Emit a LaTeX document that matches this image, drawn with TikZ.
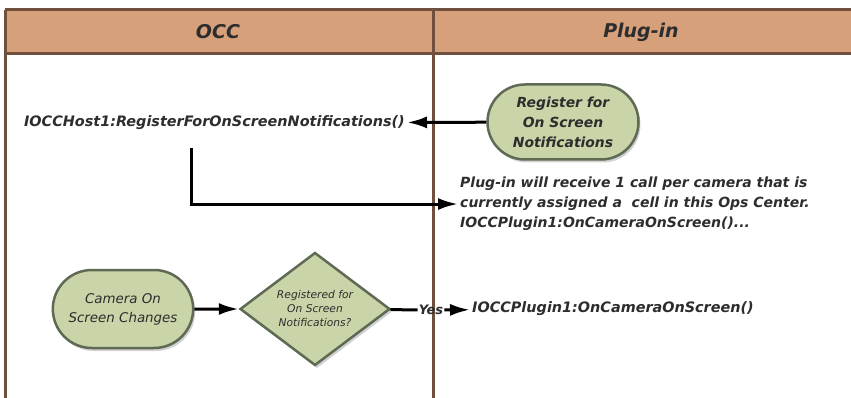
\documentclass[tikz,border=0pt]{standalone}
\usepackage{fontspec}
\setmainfont{DejaVu Sans}
\usepackage{tikz}
\usetikzlibrary{shapes.geometric}
\usetikzlibrary{shapes.misc}
\usetikzlibrary{arrows.meta}
\usetikzlibrary{shadows}
\usetikzlibrary{positioning}
\definecolor{laneline}{RGB}{112,80,60}
\definecolor{lanehead}{RGB}{214,160,122}
\definecolor{stepfill}{RGB}{201,213,168}
\definecolor{stepline}{RGB}{95,106,85}
\definecolor{inkgray}{RGB}{45,45,45}

\begin{document}
\begin{tikzpicture}[x=1pt,y=-1pt,>={Latex[length=20pt,width=12pt]},
    lane/.style={draw=laneline,line width=3pt},
    head text/.style={font=\fontsize{19}{22}\selectfont\bfseries\itshape,text=inkgray},
    call text/.style={font=\fontsize{14.4}{17}\selectfont\bfseries\itshape,text=inkgray,inner sep=2pt},
    term node/.style={rounded rectangle,draw=stepline,fill=stepfill,line width=2.5pt,align=center,
        text=inkgray,drop shadow={opacity=0.35,shadow xshift=2pt,shadow yshift=-3pt}},
    dec node/.style={diamond,draw=stepline,fill=stepfill,line width=2.5pt,align=center,inner sep=0pt,
        text=inkgray,minimum width=150pt,minimum height=113pt,
        drop shadow={opacity=0.35,shadow xshift=2pt,shadow yshift=-3pt}},
    flow/.style={->,line width=3pt,black}]
   \useasboundingbox (0,0) rectangle (851,398);
   \clip (0,0) rectangle (851,398);
   % swim lanes
   \fill[white] (0,0) rectangle (851,398);
   \fill[lanehead] (5,10) rectangle (860,54);
   \draw[lane] (5,10) -- (860,10);
   \draw[lane] (5,54) -- (860,54);
   \draw[lane] (5,10) -- (5,405);
   \draw[lane] (433,10) -- (433,405);
   \node[head text] (occ) at (218,32) {OCC};
   \node[head text] (plugin) at (641,32) {Plug-in};

   % register step
   \node[term node,minimum width=153pt,minimum height=75pt,inner sep=1pt,
     font=\fontsize{13.9}{20}\selectfont\bfseries\itshape] (reg) at (563,122)
     {Register for\\On Screen\\Notifications};
   \node[call text,anchor=east] (host) at (407,123) {IOCCHost1:RegisterForOnScreenNotifications()};
   \node[call text,anchor=north west,align=left,font=\fontsize{14}{20}\selectfont\bfseries\itshape]
     (note) at (458,175) {Plug-in will receive 1 call per camera that is\\
     currently assigned a\ \ cell in this Ops Center.\\
     IOCCPlugin1:OnCameraOnScreen()...};
   \coordinate (drop) at (191,148);
   \path[flow] (reg) edge (host);
   \draw[flow] (drop) |- (note.west);

   % camera step
   \node[term node,minimum width=147pt,minimum height=78pt,
     font=\fontsize{13.4}{19}\selectfont\itshape] (cam) at (123,309) {Camera On\\Screen Changes};
   \node[dec node,font=\fontsize{10.7}{14}\selectfont\itshape] (reg2) at (315,309)
     {Registered for\\On Screen\\Notifications?};
   \node[call text,anchor=west] (oncam) at (470,309) {IOCCPlugin1:OnCameraOnScreen()};
   \node[font=\fontsize{13}{15}\selectfont\bfseries\itshape,text=inkgray,inner sep=1pt] (yes) at (431,310) {Yes};
   \path[flow] (cam) edge (reg2);
   \draw[line width=3pt] (reg2) -- (yes);
   \path[flow] (yes) edge (oncam);
\end{tikzpicture}
\end{document}
